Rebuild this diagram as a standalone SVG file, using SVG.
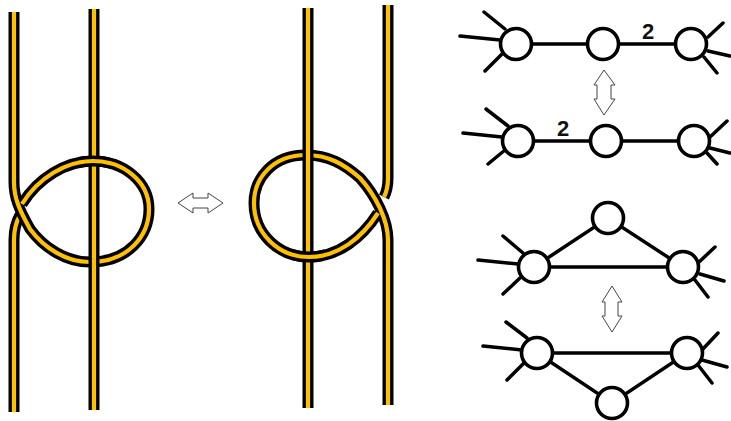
<svg xmlns="http://www.w3.org/2000/svg" width="731" height="421" viewBox="0 0 731 421">
<style>
.o{fill:none;stroke:#000;stroke-width:11}
.i{fill:none;stroke:#ffc000;stroke-width:4.2}
.n{fill:#fff;stroke:#000;stroke-width:3.6}
.e{stroke:#000;stroke-width:3.5;fill:none;stroke-linecap:round}
.a{fill:#fff;stroke:#444;stroke-width:1}
.t{font-family:"Liberation Sans",Arial,sans-serif;font-size:22px;font-weight:bold;fill:#111;text-anchor:middle}
</style>
<defs>
<path id="tL" d="M14 12V182C14 198 19 209 30 229C44 248 66 262 90 262C128 262 149 236 149 209C149 182 124 161 93 161C66 161 38 178 22 204"/>
<path id="bL" d="M14 412V240C14 229 16 222 20 215"/>
<path id="tR" d="M388 5V178C388 186 387 191 384 197"/>
<path id="bR" d="M388 405V240C388 220 376 196 360 178C344 164 328 155 306 155C273 155 254 178 254 203C254 233 278 257 309 257C338 257 362 238 378 213"/>
<clipPath id="cL"><rect x="78" y="148" width="32" height="26"/></clipPath>
<clipPath id="cR"><rect x="292" y="244" width="32" height="26"/></clipPath>
<clipPath id="cC"><rect x="0" y="0" width="31" height="250"/></clipPath>
<clipPath id="cD"><rect x="370" y="0" width="40" height="250"/></clipPath>
</defs>
<g id="knot-left">
<use class="o" href="#bL"/><use class="i" href="#bL"/>
<use class="o" href="#tL"/><use class="i" href="#tL"/>
<path class="o" d="M94 9V410"/><path class="i" d="M94 9V410"/>
<g clip-path="url(#cL)"><use class="o" href="#tL"/><use class="i" href="#tL"/></g>
</g>
<g id="knot-right">
<use class="o" href="#tR"/><use class="i" href="#tR"/>
<use class="o" href="#bR"/><use class="i" href="#bR"/>
<path class="o" d="M308 8V408"/><path class="i" d="M308 8V408"/>
<g clip-path="url(#cR)"><use class="o" href="#bR"/><use class="i" href="#bR"/></g>
</g>
<g id="arrows">
<path id="arrow-h" class="a" d="M178 203L193 193V198H208V193L223 203L208 213V208H193V213Z"/>
<path id="arrow-v1" class="a" d="M604 70L615 85H611V99H615L604 115L594 99H597V85H594Z"/>
<path id="arrow-v2" class="a" d="M612 286L622 302H618V316H622L612 332L602 316H605V302H602Z"/>
</g>
<g id="connectors" class="e">
<path d="M516 44H691M484 12L505 29M460 36L500 40M485 71L502 54M723 23L708 37M730 56L708 51M717 73L704 57"/>
<path d="M518 141H694M486 109L508 126M463 133L502 137M488 164L505 150M727 121L710 137M730 153L710 148M717 164L707 153"/>
<path d="M534 267H683L608 218ZM503 236L523 253M478 260L518 264M503 294L520 278M715 247L698 263M724 281L700 274M708 297L695 280"/>
<path d="M537 353H687L612 403ZM506 322L527 338M483 346L522 350M507 380L524 363M718 333L702 350M727 367L702 360M712 383L698 365"/>
</g>
<g id="n1"><circle class="n" cx="516" cy="44" r="15.5"/></g>
<g id="n2"><circle class="n" cx="603" cy="44" r="15.5"/></g>
<g id="n3"><circle class="n" cx="691" cy="44" r="15.5"/></g>
<g id="n4"><circle class="n" cx="518" cy="141" r="15.5"/></g>
<g id="n5"><circle class="n" cx="606" cy="141" r="15.5"/></g>
<g id="n6"><circle class="n" cx="694" cy="141" r="15.5"/></g>
<g id="n7"><circle class="n" cx="608" cy="218" r="15.5"/></g>
<g id="n8"><circle class="n" cx="534" cy="267" r="15.5"/></g>
<g id="n9"><circle class="n" cx="683" cy="267" r="15.5"/></g>
<g id="n10"><circle class="n" cx="537" cy="353" r="15.5"/></g>
<g id="n11"><circle class="n" cx="687" cy="353" r="15.5"/></g>
<g id="n12"><circle class="n" cx="612" cy="403" r="15.5"/></g>
<g id="labels">
<text class="t" x="648" y="39">2</text>
<text class="t" x="563" y="136">2</text>
</g>
</svg>
